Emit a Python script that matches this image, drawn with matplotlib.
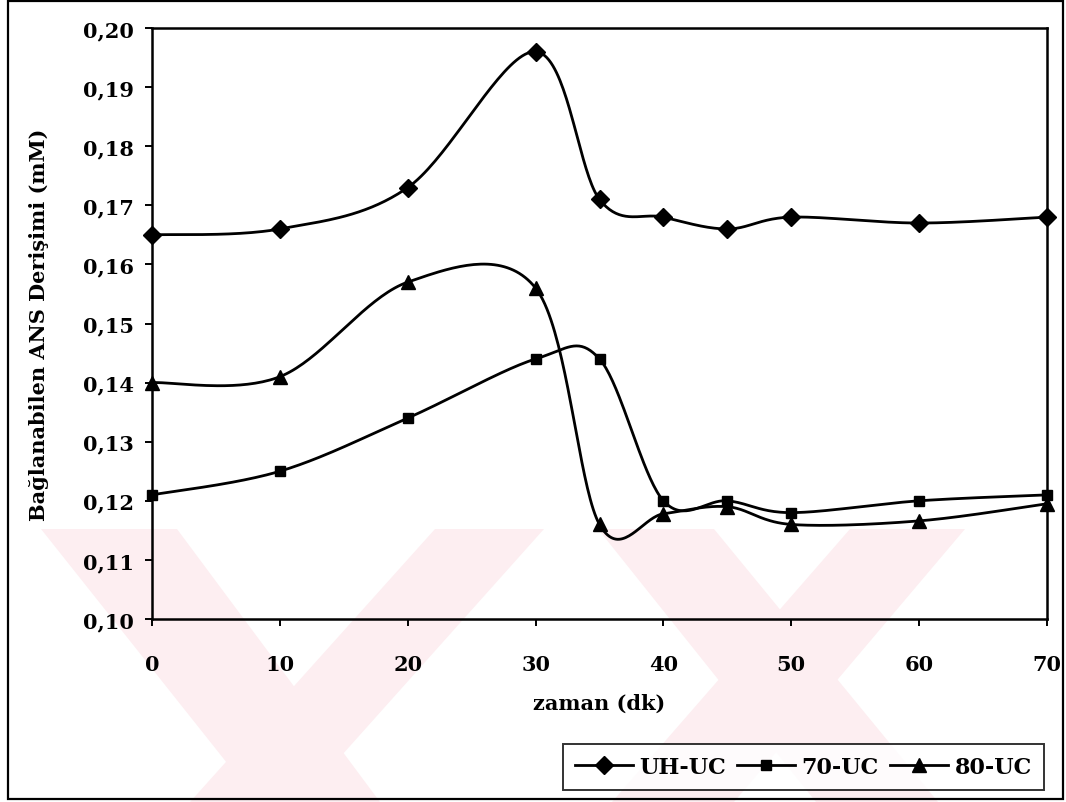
import numpy as np
import matplotlib
matplotlib.use("Agg")
import matplotlib.pyplot as plt
from matplotlib.patches import Polygon, Rectangle

# zaman (dk) ve baglanabilen ANS derisimi (mM)
zaman = [0, 10, 20, 30, 35, 40, 45, 50, 60, 70]
uh_uc = [0.165, 0.166, 0.173, 0.196, 0.171, 0.168, 0.166, 0.168, 0.167, 0.168]
uc_70 = [0.121, 0.125, 0.134, 0.144, 0.144, 0.120, 0.120, 0.118, 0.120, 0.121]
uc_80 = [0.140, 0.141, 0.157, 0.156, 0.116, 0.1178, 0.119, 0.116, 0.1166, 0.1195]

series_names = ["UH-UC", "70-UC", "80-UC"]
y_ticks = [0.10, 0.11, 0.12, 0.13, 0.14, 0.15, 0.16, 0.17, 0.18, 0.19, 0.20]
x_ticks = [0, 10, 20, 30, 40, 50, 60, 70]


def smooth(xs, ys, n=40):
    # Bezier segments with Catmull-Rom style control points
    p = np.column_stack([xs, ys]).astype(float)
    ext = np.vstack([p[0], p, p[-1]])
    out = []
    t = np.linspace(0, 1, n)[:, None]
    for i in range(len(p) - 1):
        p0, p1 = ext[i + 1], ext[i + 2]
        c1 = p0 + (ext[i + 2] - ext[i]) / 6.0
        c2 = p1 - (ext[i + 3] - ext[i + 1]) / 6.0
        seg = ((1 - t) ** 3) * p0 + 3 * ((1 - t) ** 2) * t * c1 \
            + 3 * (1 - t) * t ** 2 * c2 + t ** 3 * p1
        out.append(seg if i == 0 else seg[1:])
    seg = np.vstack(out)
    return seg[:, 0], seg[:, 1]


plt.rcParams["font.family"] = ["DejaVu Serif"]
plt.rcParams["font.weight"] = "bold"

fig = plt.figure(figsize=(10.66, 8.03), dpi=100)
W, H = 1066.0, 803.0

# faint pink background mark in the lower part of the page
bg = fig.add_axes([0, 0, 1, 1], zorder=-1)
bg.set_xlim(0, W)
bg.set_ylim(H, 0)
bg.axis("off")
bands = [
    [(41, 530), (177, 530), (380, 803), (258, 803)],
    [(435, 530), (544, 530), (300, 803), (190, 803)],
    [(598, 530), (714, 530), (938, 803), (816, 803)],
    [(850, 530), (965, 530), (734, 803), (612, 803)],
]
for b in bands:
    bg.add_patch(Polygon(b, closed=True, facecolor="#fdeef1", edgecolor="none"))
# outer frame
bg.add_patch(Rectangle((8, 2), 1055, 798, fill=False, edgecolor="black", linewidth=1.6))

ax = fig.add_axes([152 / W, 1 - 620 / H, 895 / W, 591 / H], zorder=1)
ax.patch.set_alpha(0)

styles = [("D", 9.5), ("s", 7), ("^", 9.5)]
handles = []
for ys, name, (m, ms) in zip([uh_uc, uc_70, uc_80], series_names, styles):
    sx, sy = smooth(zaman, ys)
    ax.plot(sx, sy, color="black", linewidth=2.0, zorder=3, clip_on=False)
    ax.plot(zaman, ys, linestyle="none", marker=m, markersize=ms,
            color="black", zorder=4, clip_on=False)
    h, = ax.plot([], [], color="black", linewidth=2.0, marker=m, markersize=ms,
                 label=name)
    handles.append(h)

ax.set_xlim(0, 70)
ax.set_ylim(0.10, 0.20)
ax.set_xticks(x_ticks)
ax.set_yticks(y_ticks)
ax.set_yticklabels([f"{v:.2f}".replace(".", ",") for v in y_ticks])
ax.set_xticklabels([str(v) for v in x_ticks])

for s in ax.spines.values():
    s.set_linewidth(1.8)
ax.tick_params(axis="both", direction="out", width=1.4, length=5, labelsize=15)
ax.tick_params(axis="x", pad=20)
ax.tick_params(axis="y", pad=8)

ax.set_xlabel("zaman (dk)", fontsize=15, fontweight="bold")
ax.xaxis.set_label_coords(0.5, -0.125)
ax.set_ylabel("Bağlanabilen ANS Derişimi (mM)", fontsize=15, fontweight="bold")
ax.yaxis.set_label_coords(-0.115, 0.5)

leg = fig.legend(handles=handles, loc="lower right", ncol=3,
                 bbox_to_anchor=(1044 / W, 12 / H), borderaxespad=0,
                 prop={"size": 16, "weight": "bold"}, frameon=True,
                 fancybox=False, shadow=False,
                 handlelength=2.6, handletextpad=0.3, columnspacing=0.5,
                 borderpad=0.55)
leg.get_frame().set_edgecolor("black")
leg.get_frame().set_linewidth(1.4)
leg.get_frame().set_facecolor("white")

fig.savefig("out.png", dpi=100)
